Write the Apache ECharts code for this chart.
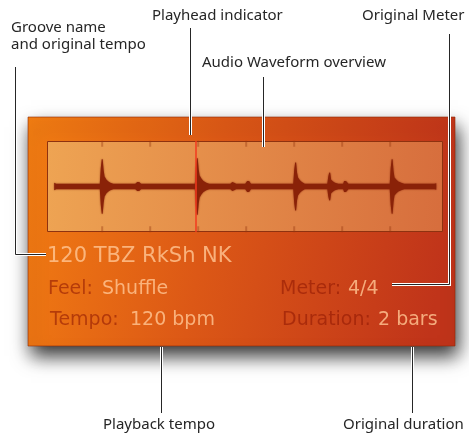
<!DOCTYPE html>
<html>
<head>
<meta charset="utf-8">
<script src="https://cdn.jsdelivr.net/npm/echarts@6/dist/echarts.min.js"></script>
<style>
    html, body { margin: 0; padding: 0; background: #fff; }
    #groove { width: 469px; height: 436px; }
</style>
</head>
<body>
<div id="groove"></div>
<script>
// waveform overview, x in beats (2 bars of 4/4), amplitude in % of half height
var waveBeats = [0.00, 0.04, 0.95, 0.97, 0.99, 1.01, 1.03, 1.05, 1.09, 1.13, 1.17, 1.23,
    1.69, 1.73, 1.77, 1.81, 2.93, 2.95, 2.97, 2.99, 3.01, 3.03, 3.07, 3.11, 3.17, 3.23,
    3.67, 3.71, 3.75, 3.79, 3.98, 4.02, 4.06, 4.10, 4.98, 5.00, 5.02, 5.04, 5.06, 5.08,
    5.12, 5.16, 5.22, 5.69, 5.71, 5.73, 5.75, 5.77, 5.81, 5.85, 5.92, 6.02, 6.04,
    6.08, 6.13, 6.99, 7.01, 7.03, 7.05, 7.07, 7.09, 7.13, 7.17, 7.23, 7.29, 7.92, 7.96];
var waveAmps = [8, 6, 6, 40, 60, 60, 36, 22, 15, 11, 8, 6,
    6, 10, 10, 6, 6, 42, 62, 62, 38, 24, 17, 12, 8, 6,
    6, 10, 8, 6, 6, 12, 12, 6, 6, 36, 53, 53, 30, 20,
    14, 10, 6, 6, 22, 31, 30, 15, 11, 8, 6, 6, 12,
    12, 6, 6, 40, 60, 60, 34, 20, 15, 11, 8, 6, 6, 7];
var tickBeats = [1, 2, 3, 4, 5, 6, 7];
var playheadBeat = 2.94;

var grooveName = '120 TBZ RkSh NK';
var fieldKeys = ['Feel:', 'Meter:', 'Tempo:', 'Duration:'];
var fieldValues = ['Shuffle', '4/4', '120 bpm', '2 bars'];
var callouts = ['Groove name', 'and original tempo', 'Playhead indicator',
    'Audio Waveform overview', 'Original Meter', 'Playback tempo', 'Original duration'];

function getTickPoints(beats) {
    var points = [];
    for (var i = 0; i < beats.length; i++) {
        points.push([beats[i], 94]);
        points.push([beats[i], -94]);
    }
    return points;
}

function leader(points) {
    // dark line with a white halo, like the callouts in the manual
    return [
        { type: 'polyline', z: 100, shape: { points: points },
          style: { stroke: '#ffffff', lineWidth: 3, fill: null } },
        { type: 'polyline', z: 101, shape: { points: points },
          style: { stroke: '#262626', lineWidth: 1, fill: null } }
    ];
}

function calloutText(text, x, baseline) {
    return { type: 'text', z: 102, x: x, y: baseline - 4.5,
        style: { text: text, font: '15px "Noto Sans"', fill: '#262626', verticalAlign: 'middle' } };
}

function panelText(text, x, baseline, size, color) {
    return { type: 'text', z: 10, x: x, y: baseline - 0.3 * size,
        style: { text: text, font: size + 'px "DejaVu Sans"', fill: color, verticalAlign: 'middle' } };
}

function showGroove() {
    var dom = document.getElementById('groove');
    var chart = echarts.init(dom, null, { renderer: 'canvas' });
    var keyColor = 'rgba(145, 25, 4, 0.6)';
    var valueColor = 'rgba(255, 196, 146, 0.82)';

    var graphics = [
        // orange panel
        { type: 'rect', z: 0, shape: { x: 28, y: 117, width: 427, height: 229 },
          style: {
              fill: new echarts.graphic.LinearGradient(0, 0, 1, 0.35, [
                  { offset: 0, color: '#f27d12' },
                  { offset: 0.45, color: '#dc5816' },
                  { offset: 1, color: '#c0341a' }
              ]),
              stroke: 'rgba(140, 40, 8, 0.6)', lineWidth: 1,
              shadowBlur: 18, shadowOffsetX: 3, shadowOffsetY: 10,
              shadowColor: 'rgba(0, 0, 0, 0.8)'
          } },
        // waveform box
        { type: 'rect', z: 1, shape: { x: 47.5, y: 141.5, width: 395, height: 90 },
          style: {
              fill: new echarts.graphic.LinearGradient(0, 0, 1, 0.3, [
                  { offset: 0, color: '#eea453' },
                  { offset: 1, color: '#d76e3d' }
              ]),
              stroke: '#8e3210', lineWidth: 1
          } },
        panelText(grooveName, 47, 263, 21, valueColor),
        panelText(fieldKeys[0], 48, 295, 19, keyColor),
        panelText(fieldValues[0], 102, 295, 19, valueColor),
        panelText(fieldKeys[1], 280, 295, 19, keyColor),
        panelText(fieldValues[1], 348, 295, 19, valueColor),
        panelText(fieldKeys[2], 50, 326, 19, keyColor),
        panelText(fieldValues[2], 130, 326, 19, valueColor),
        panelText(fieldKeys[3], 282, 326, 19, keyColor),
        panelText(fieldValues[3], 378, 326, 19, valueColor),
        calloutText(callouts[0], 11, 32),
        calloutText(callouts[1], 11, 49),
        calloutText(callouts[2], 152, 20),
        calloutText(callouts[3], 202, 67),
        calloutText(callouts[4], 362, 20),
        calloutText(callouts[5], 103, 429),
        calloutText(callouts[6], 343, 429)
    ];
    graphics = graphics
        .concat(leader([[15.5, 67], [15.5, 254.5], [46, 254.5]]))
        .concat(leader([[190.5, 28], [190.5, 135]]))
        .concat(leader([[263.5, 77], [263.5, 147]]))
        .concat(leader([[449.5, 34], [449.5, 284.5], [392, 284.5]]))
        .concat(leader([[161.5, 347], [161.5, 413]]))
        .concat(leader([[412.5, 347], [412.5, 413]]));

    var option = {
        animation: false,
        graphic: graphics,
        grid: {
            left: 47,
            top: 141,
            width: 396,
            height: 91,
            show: false
        },
        xAxis: {
            type: 'value',
            min: -0.15,
            max: 8.1,
            show: false
        },
        yAxis: {
            type: 'value',
            min: -100,
            max: 100,
            show: false
        },
        series: [
            {
                name: 'waveform',
                type: 'custom',
                silent: true,
                z: 3,
                data: [0],
                renderItem: function (params, api) {
                    var top = [];
                    var bottom = [];
                    for (var i = 0; i < waveBeats.length; i++) {
                        top.push(api.coord([waveBeats[i], waveAmps[i]]));
                        bottom.unshift(api.coord([waveBeats[i], -waveAmps[i]]));
                    }
                    return {
                        type: 'polygon',
                        shape: { points: top.concat(bottom) },
                        style: { fill: '#8a2208', shadowBlur: 2, shadowColor: 'rgba(120,20,0,0.7)' }
                    };
                }
            },
            {
                name: 'beats',
                type: 'scatter',
                silent: true,
                z: 2,
                symbol: 'rect',
                symbolSize: [2, 6],
                itemStyle: { color: 'rgba(150, 55, 15, 0.5)' },
                data: getTickPoints(tickBeats),
                markLine: {
                    silent: true,
                    symbol: ['none', 'none'],
                    label: { show: false },
                    lineStyle: { color: '#f23a1e', width: 1.5, type: 'solid' },
                    data: [{ xAxis: playheadBeat }]
                }
            }
        ]
    };
    chart.setOption(option);
}
showGroove();
</script>
</body>
</html>
